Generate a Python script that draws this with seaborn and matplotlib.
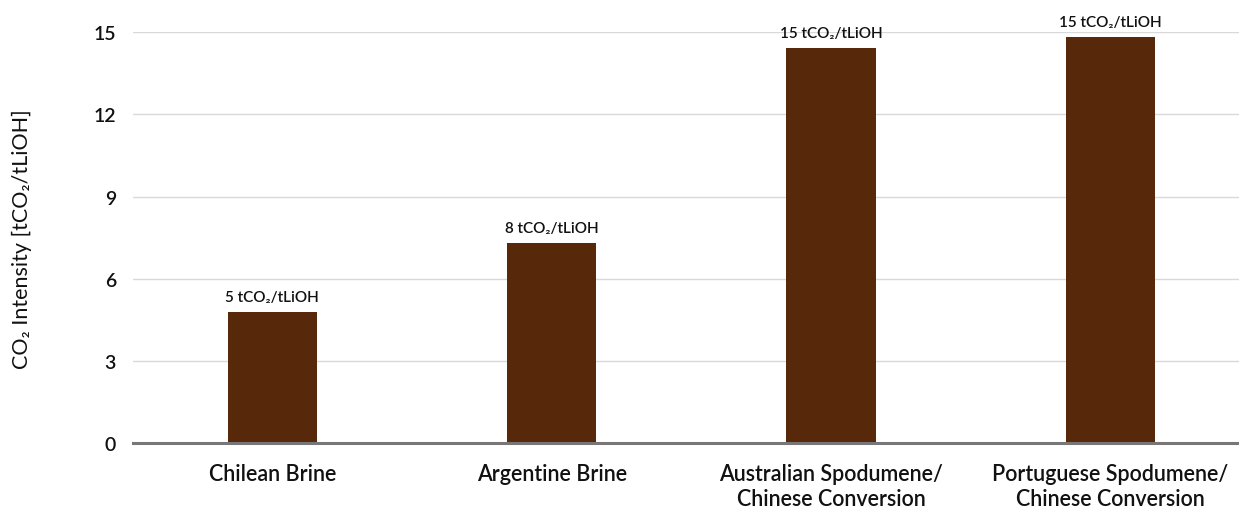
import matplotlib
matplotlib.use('Agg')
import matplotlib.pyplot as plt
import seaborn as sns

routes = ['Chilean Brine', 'Argentine Brine',
          'Australian Spodumene/\nChinese Conversion',
          'Portuguese Spodumene/\nChinese Conversion']
intensity = [4.78, 7.30, 14.42, 14.82]
bar_text = ['5 tCO₂/tLiOH', '8 tCO₂/tLiOH', '15 tCO₂/tLiOH', '15 tCO₂/tLiOH']
y_ticks = [0, 3, 6, 9, 12, 15]

sns.set_style('white')
plt.rcParams['font.family'] = ['Lato', 'DejaVu Sans']
plt.rcParams['font.weight'] = 'semibold'

fig = plt.figure(figsize=(12.39, 5.10), dpi=100)
ax = fig.add_axes([0.107, 0.129, 0.893, 0.806])

sns.barplot(x=routes, y=intensity, color='#58280a', saturation=1, width=0.32,
            linewidth=0, ax=ax)
ax.bar_label(ax.containers[0], labels=bar_text, padding=6, fontsize=11, color='#111111')

ax.set_ylim(0, 15)
ax.set_xlim(-0.5, 3.46)
ax.set_yticks(y_ticks)
ax.yaxis.grid(True, color='#d9d9d9', linewidth=1)
ax.set_axisbelow(True)
for s in ['left', 'right', 'top']:
    ax.spines[s].set_visible(False)
ax.spines['bottom'].set_color('#777777')
ax.spines['bottom'].set_linewidth(2.2)
ax.tick_params(axis='both', length=0)
ax.tick_params(axis='y', labelsize=14, pad=12, labelcolor='#111111')
ax.tick_params(axis='x', labelsize=15.5, pad=14, labelcolor='#111111')
for t in ax.get_xticklabels():
    t.set_linespacing(1.25)
ax.set_ylabel('CO₂ Intensity [tCO₂/tLiOH]', fontsize=15.5, labelpad=44, color='#111111')
ax.set_xlabel('')

plt.savefig('out.png', dpi=100)
